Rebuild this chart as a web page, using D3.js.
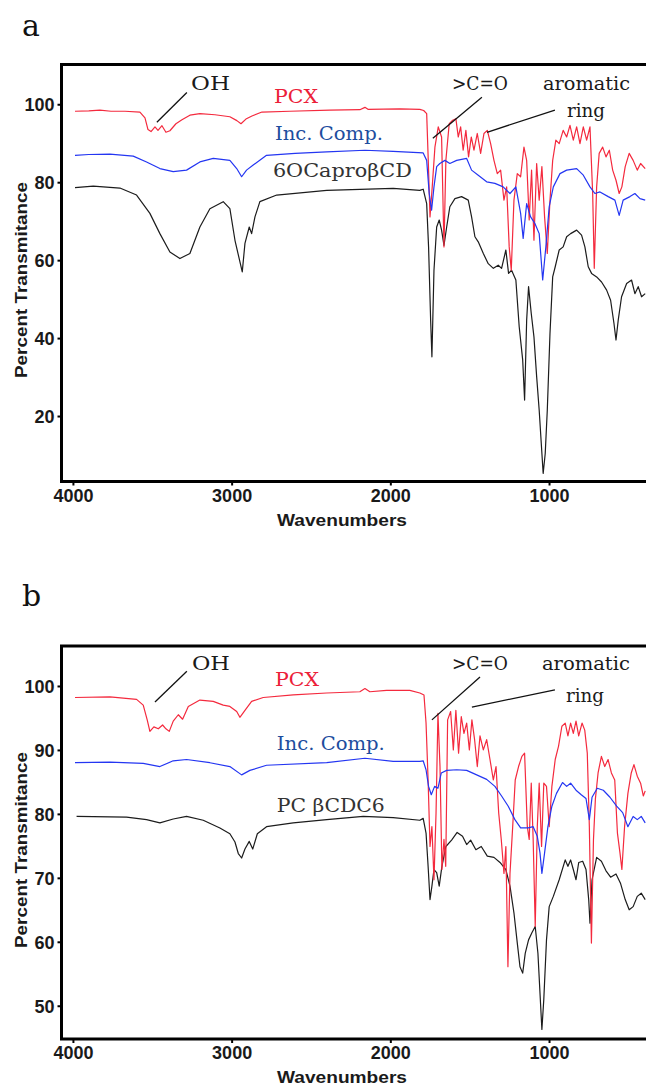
<!DOCTYPE html>
<html>
<head>
<meta charset="utf-8">
<script src="https://cdn.jsdelivr.net/npm/d3@7"></script>
<style>
body { margin: 0; background: #fff; }
</style>
</head>
<body>
<svg id="fig" width="646" height="1088"></svg>
<script>
// x ticks shared by both panels
const xTicks = [4000, 3000, 2000, 1000];
const yTicksA = [20, 40, 60, 80, 100];
const yTicksB = [50, 60, 70, 80, 90, 100];

// panel a : [wavenumber, %T]
const pcxA = [[3987,98.2],[3900,98.3],[3830,98.5],[3760,98.2],[3672,98.2],[3578,98.0],[3546,96.5],[3527,93.5],[3508,93.0],[3483,94.2],[3464,93.3],[3439,94.5],[3414,92.8],[3389,93.2],[3351,95.0],[3313,96.0],[3263,97.2],[3200,97.6],[3105,97.3],[3011,96.8],[2967,95.8],[2941,95.0],[2910,96.2],[2872,97.0],[2809,98.0],[2633,98.2],[2381,98.5],[2192,98.6],[2160,99.2],[2141,98.7],[1940,98.8],[1814,98.7],[1790,98.4],[1771,97.6],[1761,85.6],[1750,71.1],[1736,78.8],[1719,89],[1698,94.2],[1677,91.6],[1662,63.4],[1650,85.6],[1629,95],[1607,95.9],[1587,96.3],[1572,91.6],[1557,94.2],[1541,88.2],[1524,93.3],[1507,86.5],[1490,91.6],[1473,88.2],[1452,92.5],[1431,87.4],[1410,92.5],[1389,93.3],[1368,89.9],[1347,85.6],[1326,82.2],[1305,83.1],[1284,75.4],[1267,78.8],[1251,63.4],[1238,57.4],[1221,75.4],[1200,82.2],[1179,81.4],[1158,89],[1141,85.6],[1125,70.3],[1110,83.1],[1095,65.1],[1078,84.8],[1062,75.4],[1045,84],[1028,71.1],[1011,61.7],[994,75.4],[977,85.6],[957,90.8],[936,89.9],[911,93.3],[889,91.6],[868,94.6],[847,90.8],[826,94.2],[805,89.9],[784,94.2],[763,90.8],[742,94.2],[725,77.1],[715,57.9],[700,78.8],[684,87.4],[662,89],[641,86.5],[620,88.2],[599,83.1],[578,80.5],[558,77.1],[541,78.8],[520,84],[495,87.4],[470,85.6],[444,83.1],[423,84.8],[394,83.5]];

const incA = [[3987,86.9],[3900,87.1],[3767,87.2],[3620,86.7],[3536,85.2],[3452,83.5],[3368,82.7],[3284,83.1],[3200,85.2],[3116,86.1],[3011,85.6],[2968,83.5],[2937,81.4],[2906,83.1],[2864,84.4],[2780,86.9],[2600,87.4],[2401,87.8],[2160,88.2],[1982,87.9],[1793,87.5],[1771,85.6],[1755,77.1],[1740,72.8],[1725,78.8],[1708,84],[1688,84.8],[1656,85.6],[1625,84.8],[1582,85.6],[1519,86.1],[1488,83.1],[1446,81.8],[1393,80.1],[1341,79.7],[1289,78.8],[1246,77.1],[1209,78.8],[1179,72],[1163,65.6],[1141,74.5],[1116,71.1],[1089,69.4],[1062,66.8],[1040,54.9],[1020,63.4],[999,73.7],[973,78.8],[931,82.2],[889,83.1],[826,83.5],[784,81.8],[742,78.8],[711,77.1],[679,77.5],[627,76.3],[585,75.4],[558,71.5],[533,75.4],[490,76.3],[459,77.1],[427,75.8],[394,75.4]];

const capA = [[3987,78.6],[3872,79],[3704,78.5],[3599,76.7],[3515,72],[3452,66.8],[3389,62.1],[3326,60.4],[3263,61.7],[3200,68.5],[3137,73.2],[3053,75],[3011,73.2],[2979,65.1],[2948,59.6],[2933,57],[2916,64.3],[2889,68.5],[2874,66.8],[2853,71.1],[2822,75],[2716,76.7],[2401,77.9],[1982,78.4],[1814,77.9],[1793,78.2],[1771,74.5],[1759,63.4],[1746,44.6],[1738,35.2],[1725,57.4],[1708,68.5],[1692,70.3],[1677,67.7],[1662,63.8],[1645,68.5],[1625,73.7],[1593,75.8],[1551,76.3],[1509,75.4],[1488,71.1],[1467,66],[1446,64.7],[1414,61.7],[1383,59.1],[1351,57.9],[1320,58.7],[1299,57.9],[1272,62.6],[1255,56.6],[1236,57.4],[1209,54.9],[1188,42.9],[1166,34.4],[1154,24.1],[1141,44.6],[1129,53.2],[1112,46.3],[1095,40.3],[1078,30.1],[1062,21.5],[1049,13],[1037,5.3],[1024,10.4],[1011,21.5],[994,41.2],[977,55.7],[961,58.3],[936,62.6],[911,63.4],[889,66],[864,66.8],[826,67.7],[795,66.4],[774,63.4],[753,58.3],[732,56.6],[700,55.7],[669,54.4],[637,52.3],[612,49.7],[591,43.8],[578,39.5],[564,44.6],[543,50.6],[511,54],[480,54.9],[459,51.4],[438,53.2],[417,50.6],[394,51.4]];

// panel b
const pcxB = [[3987,98.2],[3767,98.3],[3599,97.9],[3557,97],[3532,94.7],[3515,92.9],[3490,93.6],[3462,93.3],[3435,93.9],[3414,93.3],[3393,92.9],[3368,94.5],[3336,95.5],[3309,94.8],[3273,96.8],[3200,97.8],[3116,97.6],[3053,97],[3011,96.8],[2968,96],[2948,95.1],[2916,96.2],[2874,97.6],[2801,98.2],[2612,98.6],[2401,98.9],[2192,99.1],[2160,99.6],[2129,99.1],[2024,99.3],[1877,99.3],[1814,98.9],[1788,98.6],[1775,94.2],[1762,85.3],[1750,74.9],[1738,78],[1725,69.7],[1712,80.1],[1700,95.7],[1687,87.4],[1675,71.3],[1662,76],[1651,71.8],[1639,94.7],[1620,96],[1603,90],[1587,96.2],[1570,89.5],[1553,95.2],[1536,92.6],[1519,94.2],[1502,90],[1486,94.7],[1469,91.6],[1452,87.4],[1435,92.2],[1414,90],[1393,91.6],[1372,88.5],[1351,85.3],[1334,87.4],[1317,80.1],[1301,76],[1284,70.7],[1272,74.9],[1259,56.1],[1246,70.7],[1229,78],[1213,85.3],[1192,87.4],[1171,89],[1154,89.5],[1137,78],[1125,76],[1112,84.8],[1100,76],[1087,62.4],[1074,78],[1062,84.8],[1047,74.9],[1033,84.8],[1016,84.3],[999,78],[982,84.3],[961,88.5],[940,90.6],[919,93.7],[898,94.2],[881,92.2],[864,94.2],[847,92.6],[830,94.5],[813,92.2],[792,94.2],[775,93.1],[759,89.5],[746,78],[733,59.8],[720,76],[708,82.3],[691,86.4],[670,89],[649,87.4],[628,88.5],[607,86.4],[586,85.3],[569,77],[553,73.9],[541,71.3],[524,78],[503,83.2],[482,86.4],[465,87.7],[444,85.9],[423,84.8],[406,82.8],[394,83.6]];

const incB = [[3987,88],[3767,88.1],[3557,87.9],[3452,87.4],[3368,88.3],[3284,88.5],[3137,88],[3011,87.4],[2937,86.1],[2885,86.8],[2780,87.6],[2401,88],[2160,88.7],[1982,88.2],[1814,88.2],[1793,88.3],[1775,86.9],[1759,84.3],[1742,83],[1721,84.3],[1700,84],[1679,86.4],[1645,86.8],[1582,86.9],[1519,86.8],[1456,86.1],[1393,85.4],[1341,84.3],[1299,82.8],[1257,81.2],[1215,79.1],[1179,77.8],[1131,77.8],[1100,78],[1074,76.5],[1057,73.9],[1045,70.7],[1028,73.9],[1007,78],[982,81.2],[953,83.2],[915,84.9],[889,84.3],[864,84.8],[830,83.7],[797,83],[767,82.4],[746,79.1],[729,82.6],[696,84],[658,83.7],[616,82.6],[574,81.2],[536,80.2],[503,78],[470,79.6],[444,79.1],[419,79.6],[394,78.6]];

const capB = [[3977,79.6],[3662,79.5],[3536,79.1],[3452,78.6],[3368,79.2],[3284,79.6],[3179,79],[3074,77.8],[3011,76.9],[2979,75.6],[2958,73.8],[2937,73.1],[2916,74.5],[2889,75.7],[2867,74.5],[2838,76.9],[2780,78],[2612,78.6],[2401,79.1],[2171,79.6],[1982,79.4],[1814,79],[1793,79.3],[1775,77],[1762,71.8],[1750,66.6],[1738,68.7],[1725,71.3],[1708,70.8],[1692,68.7],[1675,71.8],[1650,74.9],[1614,75.9],[1579,77.1],[1545,76.5],[1519,75.2],[1494,75.9],[1461,74.4],[1427,74.9],[1389,73.4],[1347,73.2],[1309,72.4],[1272,71.3],[1246,68.7],[1221,64.5],[1200,59.8],[1183,56.1],[1166,55.1],[1150,58.2],[1129,60.3],[1108,61.4],[1087,62.4],[1070,58.2],[1057,52],[1045,46.3],[1033,51],[1016,60.3],[999,65.5],[973,67.1],[936,69.7],[898,72.8],[881,71.8],[864,72.8],[847,71.3],[830,69.7],[813,72.4],[788,72.6],[767,71.3],[750,66.6],[742,62.9],[729,69.7],[700,73.2],[670,72.6],[641,71.1],[612,70.1],[578,70.6],[549,69.1],[520,66.6],[495,65],[470,65.5],[444,67.1],[419,67.6],[394,66.6]];

const W = 646;
const svg = d3.select("#fig");
const x = d3.scaleLinear().domain([4072, 389]).range([61.5, 646]);

const RED = "#f42a3e", BLUE = "#2436f2", BLACK = "#1c1c1c";
const serif = "'DejaVu Serif', 'Liberation Serif', serif";
const sans = "'Liberation Sans', Arial, sans-serif";

function drawPanel(p) {
  const g = svg.append("g");
  const y = d3.scaleLinear().domain(p.yDomain).range([p.bottom, p.top]);

  g.append("clipPath").attr("id", "clip-" + p.name)
    .append("rect")
    .attr("x", 63).attr("y", p.top + 1.5)
    .attr("width", W - 63).attr("height", p.bottom - p.top - 3);

  const line = d3.line().x(d => x(d[0])).y(d => y(d[1]));

  p.series.forEach(s => {
    g.append("path").datum(s.data)
      .attr("clip-path", "url(#clip-" + p.name + ")")
      .attr("fill", "none")
      .attr("stroke", s.color)
      .attr("stroke-width", 1.2)
      .attr("stroke-linejoin", "round")
      .attr("d", line);
  });

  // axes
  const yAxis = d3.axisLeft(y).tickValues(p.yTicks).tickSize(4).tickPadding(3);
  const ya = g.append("g").attr("transform", "translate(61.5,0)").call(yAxis);
  const xAxis = d3.axisBottom(x).tickValues(xTicks).tickFormat(d3.format("d")).tickSize(4).tickPadding(2);
  const xa = g.append("g").attr("transform", "translate(0," + p.bottom + ")").call(xAxis);
  [ya, xa].forEach(a => {
    a.select(".domain").remove();
    a.selectAll(".tick line").attr("stroke", "#000").attr("stroke-width", 2);
    a.selectAll(".tick text")
      .attr("fill", "#1a1a1a")
      .style("font-family", sans).style("font-weight", "bold").style("font-size", "18px");
  });
  ya.selectAll(".tick text").attr("dy", "0.36em");
  xa.selectAll(".tick text").attr("dy", "0.8em");

  // frame (left, top, bottom)
  g.append("path")
    .attr("d", `M${W + 2},${p.top}H61.5V${p.bottom}H${W + 2}`)
    .attr("fill", "none").attr("stroke", "#000").attr("stroke-width", 3);

  // titles
  g.append("text")
    .attr("x", 342).attr("y", p.bottom + 44)
    .attr("text-anchor", "middle")
    .attr("textLength", 130).attr("lengthAdjust", "spacingAndGlyphs")
    .style("font-family", sans).style("font-weight", "bold").style("font-size", "17px")
    .attr("fill", "#1a1a1a")
    .text("Wavenumbers");

  g.append("text")
    .attr("transform", "translate(27," + p.labelY + ") rotate(-90)")
    .attr("text-anchor", "middle")
    .attr("textLength", 196).attr("lengthAdjust", "spacingAndGlyphs")
    .style("font-family", sans).style("font-weight", "bold").style("font-size", "17px")
    .attr("fill", "#1a1a1a")
    .text("Percent Transmitance");

  g.append("text")
    .attr("x", 22).attr("y", p.letterY)
    .style("font-family", serif).style("font-size", "30px")
    .attr("fill", "#111")
    .text(p.name);

  // annotations
  p.notes.forEach(n => {
    g.append("text")
      .attr("x", x(n.w)).attr("y", y(n.v))
      .attr("textLength", n.len).attr("lengthAdjust", "spacingAndGlyphs")
      .style("font-family", serif).style("font-size", "18px")
      .attr("fill", n.color || "#1a1a1a")
      .text(n.t);
  });
  p.pointers.forEach(pt => {
    g.append("path")
      .attr("d", d3.line().x(d => x(d[0])).y(d => y(d[1]))(pt))
      .attr("stroke", "#111").attr("stroke-width", 1.3).attr("fill", "none");
  });
}

drawPanel({
  name: "a", top: 64.5, bottom: 481.5, yDomain: [3.2, 110.2], yTicks: yTicksA,
  labelY: 280, letterY: 36,
  series: [
    { data: capA, color: BLACK },
    { data: pcxA, color: RED },
    { data: incA, color: BLUE }
  ],
  notes: [
    { t: "OH", w: 3256, v: 103.6, len: 39 },
    { t: "PCX", w: 2733, v: 100.3, len: 44, color: "#ec2038" },
    { t: "Inc. Comp.", w: 2727, v: 90.8, len: 108, color: "#1d4d9e" },
    { t: "6OCaproβCD", w: 2740, v: 81.3, len: 139, color: "#333" },
    { t: ">C=O", w: 1612, v: 103.6, len: 56 },
    { t: "aromatic", w: 1038, v: 103.6, len: 87 },
    { t: "ring", w: 887, v: 96.7, len: 38 }
  ],
  pointers: [
    [[3282, 103.0], [3471, 95.4]],
    [[1423, 101.8], [1732, 91.3]],
    [[963, 98.5], [1391, 92.8]]
  ]
});

drawPanel({
  name: "b", top: 646, bottom: 1039, yDomain: [44.8, 106.25], yTicks: yTicksB,
  labelY: 850, letterY: 606,
  series: [
    { data: capB, color: BLACK },
    { data: pcxB, color: RED },
    { data: incB, color: BLUE }
  ],
  notes: [
    { t: "OH", w: 3250, v: 102.5, len: 38 },
    { t: "PCX", w: 2727, v: 100, len: 44, color: "#ec2038" },
    { t: "Inc. Comp.", w: 2715, v: 90, len: 108, color: "#1d4d9e" },
    { t: "PC βCDC6", w: 2715, v: 80.3, len: 108, color: "#333" },
    { t: ">C=O", w: 1612, v: 102.5, len: 56 },
    { t: "aromatic", w: 1045, v: 102.5, len: 88 },
    { t: "ring", w: 893, v: 97.5, len: 38 }
  ],
  pointers: [
    [[3282, 102.3], [3483, 97.5]],
    [[1435, 101.4], [1738, 94.7]],
    [[963, 99.4], [1486, 96.7]]
  ]
});
</script>
</body>
</html>
